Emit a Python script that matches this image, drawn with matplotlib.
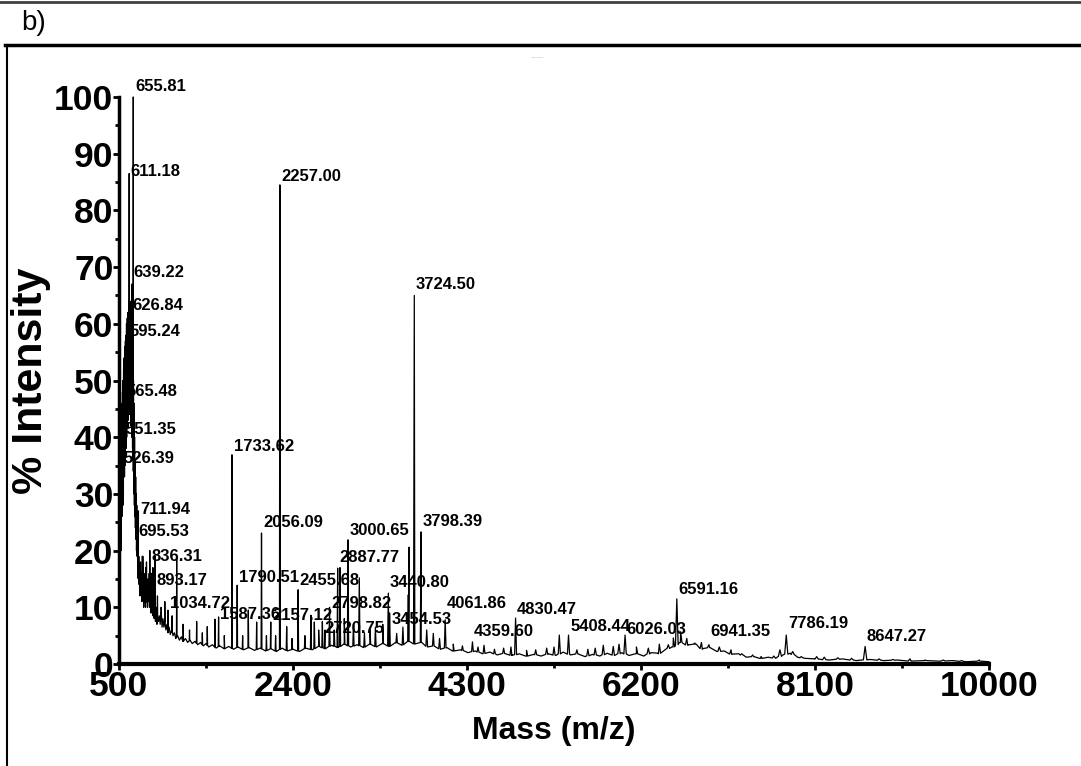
import numpy as np
import matplotlib
matplotlib.use('agg')
import matplotlib.pyplot as plt
from matplotlib.lines import Line2D

plt.rcParams['font.family'] = ['Liberation Sans', 'DejaVu Sans']

# background of the spectrum (mass, % intensity);
# the low-mass part is a dense zigzag of unresolved signals
base_mass = [500, 502, 504, 506, 508, 510, 512, 514, 516, 518, 520, 522, 524, 526, 528,
             530, 532, 534, 536, 538, 540, 542, 544, 546, 548, 550, 552, 554, 556, 558,
             560, 562, 564, 566, 568, 570, 572, 574, 576, 578, 580, 582, 584, 586, 588,
             590, 592, 594, 596, 598, 600, 602, 604, 606, 608, 610, 612, 614, 616, 618,
             620, 622, 624, 626, 628, 630, 632, 634, 636, 638, 640, 642, 644, 646, 648,
             650, 652, 654, 656, 658, 660, 662, 664, 666, 668, 670, 673, 676, 679, 682,
             685, 688, 691, 694, 697, 700, 704, 708, 712, 716, 720, 725, 730, 735, 740,
             745, 750, 755, 760, 765, 770, 775, 780, 785, 790, 795, 800, 806, 812, 818,
             824, 830, 836, 842, 848, 854, 860, 866, 872, 878, 884, 890, 898, 906, 914,
             922, 930, 940, 950, 960, 970, 980, 990, 1000, 1012, 1024, 1036, 1048, 1060,
             1075, 1090, 1105, 1120, 1140, 1160, 1180, 1200, 1225, 1250, 1275, 1300,
             1330, 1360, 1390, 1420, 1450, 1480, 1520, 1560, 1600, 1650, 1700, 1750,
             1800, 1860, 1920, 1980, 2040, 2100, 2160, 2220, 2280, 2340, 2400, 2470,
             2540, 2610, 2680, 2750, 2820, 2890, 2960, 3030, 3100, 3170, 3240, 3310,
             3380, 3450, 3520, 3590, 3660, 3730, 3800, 3870, 3940, 4010, 4080, 4150,
             4230, 4310, 4390, 4470, 4550, 4630, 4710, 4790, 4870, 4950, 5030, 5110,
             5190, 5270, 5350, 5430, 5510, 5590, 5670, 5750, 5830, 5910, 5990, 6070,
             6150, 6230, 6310, 6390, 6470, 6550, 6630, 6710, 6790, 6870, 6950, 7030,
             7110, 7190, 7270, 7350, 7430, 7510, 7590, 7670, 7750, 7830, 7910, 7990,
             8100, 8250, 8400, 8550, 8700, 8850, 9000, 9150, 9300, 9450, 9600, 9750,
             9900, 10000]
base_int = [18, 30, 15, 34, 20, 28, 16, 36, 22, 40, 25, 38, 20, 42, 28,
            44, 26, 46, 30, 48, 28, 50, 32, 47, 30, 52, 34, 50, 36, 54,
            33, 56, 38, 52, 35, 57, 40, 55, 38, 58, 42, 60, 40, 57, 44,
            61, 42, 59, 45, 62, 43, 60, 46, 63, 44, 61, 47, 64, 45, 62,
            48, 63, 44, 61, 46, 64, 42, 60, 45, 62, 40, 58, 43, 60, 38,
            56, 36, 54, 34, 50, 32, 46, 30, 44, 28, 40, 26, 36, 24, 33,
            22, 30, 20, 28, 19, 24, 17, 22, 15, 19, 14, 17, 12, 18, 13,
            16, 11, 19, 12, 17, 10, 15, 11, 16, 10, 17, 11, 15, 10, 14,
            11, 16, 10, 13, 9, 14, 9, 12, 8.5, 11, 8, 12, 7.5, 10, 7,
            9, 7.5, 8.5, 7, 9, 6.5, 8, 6.5, 7.5, 6, 7, 5.5, 6.5, 5.2,
            6, 5, 5.5, 4.5, 5, 4.2, 4.8, 4, 4.5, 3.8, 4.2, 3.6,
            4.0, 3.4, 3.8, 3.2, 3.6, 3.0, 3.4, 2.8, 3.2, 2.7, 3.1, 2.6,
            3.0, 2.5, 2.9, 2.4, 2.8, 2.3, 2.7, 2.2, 2.8, 2.3, 2.6, 2.2,
            2.8, 2.5, 3.1, 2.7, 3.3, 2.9, 3.5, 3.0, 3.4, 2.9, 3.5, 3.0,
            3.6, 3.1, 3.8, 3.3, 4.0, 3.5, 3.8, 3.0, 3.2, 2.6, 2.9, 2.3,
            2.5, 2.0, 2.3, 1.8, 2.1, 1.6, 1.9, 1.5, 1.8, 1.4, 1.7, 1.4,
            1.8, 1.5, 2.1, 1.6, 1.8, 1.3, 1.7, 1.4, 1.9, 1.5, 2.0, 1.5,
            1.8, 1.4, 2.0, 1.8, 2.6, 3.0, 3.8, 3.3, 3.5, 2.6, 2.9, 2.2,
            2.3, 1.7, 1.8, 1.2, 1.3, 1.0, 1.2, 1.0, 1.6, 1.9, 1.2, 1.0,
            0.9, 0.7, 0.9, 0.6, 0.8, 0.6, 0.7, 0.5, 0.6, 0.5, 0.6, 0.4,
            0.5, 0.4]

# peaks (mass, % intensity)
peak_mass = [505, 510, 515, 520, 526.39, 533, 540, 551.35, 558, 565.48, 572, 580, 587,
             595.24, 603, 611.18, 618, 626.84, 633, 639.22, 647, 655.81, 663, 672, 680,
             695.53, 711.94, 725, 740, 760, 780, 800, 820, 836.31, 850, 870, 893.17, 920,
             960, 1000, 1034.72, 1080, 1130, 1200, 1270, 1348, 1410, 1464, 1548, 1587.36,
             1650, 1733.62, 1790.51, 1850, 1912, 2003, 2056.09, 2110, 2157.12, 2210, 2257.00,
             2331, 2390, 2455.68, 2530, 2596, 2633, 2680, 2720.75, 2749, 2798.82, 2850,
             2887.77, 2913, 2960, 3000.65, 3060, 3124, 3180, 3241, 3300, 3380, 3440.80,
             3454.53, 3532, 3600, 3659, 3666, 3724.50, 3798.39, 3860, 3932, 4000, 4061.86,
             4150, 4250, 4359.60, 4420, 4486, 4600, 4700, 4780, 4830.47, 4950, 5050, 5170,
             5250, 5308, 5408.44, 5500, 5620, 5700, 5788, 5897, 5960, 6026.03, 6150, 6280,
             6400, 6498, 6553, 6591.16, 6633, 6700, 6789, 6860, 6941.35, 7055, 7183, 7300,
             7420, 7510, 7650, 7717, 7786.19, 7856, 7950, 8118, 8201, 8350, 8500, 8647.27,
             8800, 8950, 9137, 9300, 9500, 9700, 9894]
peak_int = [30, 22, 35, 25, 43, 30, 45, 50, 40, 55, 45, 58, 50,
            62, 55, 86.5, 58, 62, 55, 67, 50, 100, 40, 35, 30,
            22, 27, 17, 16, 19, 14, 18, 15, 20, 16, 17, 19, 12,
            10, 11, 9.5, 8.5, 18.7, 7, 6, 7.5, 5.5, 6.6, 7.9, 8.3,
            5, 36.9, 13.9, 5, 9.5, 7.4, 23.1, 5, 7.4, 5, 84.5,
            6.6, 4.5, 13.1, 5, 8.6, 7.4, 6, 7.5, 6, 10, 6,
            16.9, 17, 8, 21.9, 7, 15.2, 5.5, 6, 6.5, 7, 12.5,
            9, 5.4, 6.5, 12.2, 20.6, 65, 23.3, 6, 5.4, 4.5, 7.8,
            3.5, 3.2, 3.9, 3, 3.3, 2.6, 2.8, 3, 8.1, 2.4, 2.5, 2.8,
            3, 5.1, 5.1, 2.5, 2.6, 2.8, 3.3, 3.1, 3.5, 5.1, 3, 2.8,
            3.5, 3.4, 4.6, 11.5, 5.7, 4.5, 3.7, 3.8, 3.4, 3, 2.5, 1.8,
            1.6, 1.3, 1.4, 2.5, 5.1, 2.2, 1.3, 1.3, 1.2, 1.1, 1.0, 3.1,
            0.9, 0.8, 0.9, 0.7, 0.7, 0.6, 0.7]

# labelled peaks: text and label height (% intensity)
label_text = ['655.81', '611.18', '2257.00', '639.22', '626.84', '595.24', '565.48', '551.35',
              '526.39', '711.94', '695.53', '836.31', '893.17', '1034.72', '1587.36', '1733.62',
              '1790.51', '2056.09', '2157.12', '2455.68', '2887.77', '3000.65', '2798.82',
              '2720.75', '3440.80', '3454.53', '3724.50', '3798.39', '4061.86', '4359.60',
              '4830.47', '5408.44', '6026.03', '6591.16', '6941.35', '7786.19', '8647.27']
label_mass = [float(t) for t in label_text]
label_y = [101.8, 86.8, 85.9, 69.0, 63.3, 58.6, 48.0, 41.4,
           36.2, 27.3, 23.3, 19.0, 14.8, 10.6, 8.8, 38.4,
           15.2, 24.9, 8.5, 14.8, 18.7, 23.6, 10.6,
           6.2, 14.3, 7.8, 67.0, 25.2, 10.6, 5.8,
           9.7, 6.7, 6.0, 13.1, 5.8, 7.1, 4.9]

# build the trace: background points plus a narrow spike for each peak
pts = list(zip(base_mass, base_int))
for m, h in zip(peak_mass, peak_int):
    w = max(0.8, 0.0022 * m)
    b = np.interp(m, base_mass, base_int)
    pts += [(m - w, b), (m, h), (m + w, b)]
pts.sort(key=lambda p: p[0])
mz = np.array([p[0] for p in pts])
inten = np.array([p[1] for p in pts])

fig = plt.figure(figsize=(10.81, 7.66), dpi=100)
ax = fig.add_axes([119 / 1081, 1 - 664 / 766, 870 / 1081, 567 / 766])

ax.plot(mz, inten, color='black', lw=0.9, zorder=3, clip_on=False)
for t, m, y in zip(label_text, label_mass, label_y):
    ax.annotate(t, xy=(m, y), xytext=(1.2, 0), textcoords='offset points',
                ha='left', va='center', fontsize=12, fontweight='bold',
                zorder=2, annotation_clip=False)

ax.set_xlim(500, 10000)
ax.set_ylim(0, 100)
ax.set_xticks(np.arange(500, 10001, 1900))
ax.set_xticks(np.arange(500, 10001, 950), minor=True)
ax.set_yticks(np.arange(0, 101, 10))
ax.set_yticks(np.arange(0, 101, 5), minor=True)
ax.tick_params(axis='both', which='major', labelsize=25.5, width=2, length=4, pad=0)
ax.tick_params(axis='both', which='minor', width=2, length=3)
for lab in ax.get_xticklabels() + ax.get_yticklabels():
    lab.set_fontweight('bold')
ax.spines['top'].set_visible(False)
ax.spines['right'].set_visible(False)
ax.spines['left'].set_linewidth(2.5)
ax.spines['bottom'].set_linewidth(3)
ax.set_xlabel('Mass (m/z)', fontsize=23, fontweight='bold', labelpad=10)
ax.set_ylabel('% Intensity', fontsize=31, fontweight='bold', labelpad=2)

# outer frame of the panel
fig.add_artist(Line2D([0, 1], [1 - 2 / 766, 1 - 2 / 766], color='0.25', lw=2))
fig.add_artist(Line2D([0.005, 1], [1 - 45 / 766, 1 - 45 / 766], color='black', lw=2.5))
fig.add_artist(Line2D([7 / 1081, 7 / 1081], [0, 1 - 45 / 766], color='black', lw=1.5))
fig.text(21 / 1081, 1 - 23 / 766, 'b)', fontsize=20, va='center', ha='left')
fig.text(538 / 1081, 1 - 57 / 766, '-----------', fontsize=2.5, color='0.5', ha='center', va='center')

fig.savefig('out.png', dpi=100)
